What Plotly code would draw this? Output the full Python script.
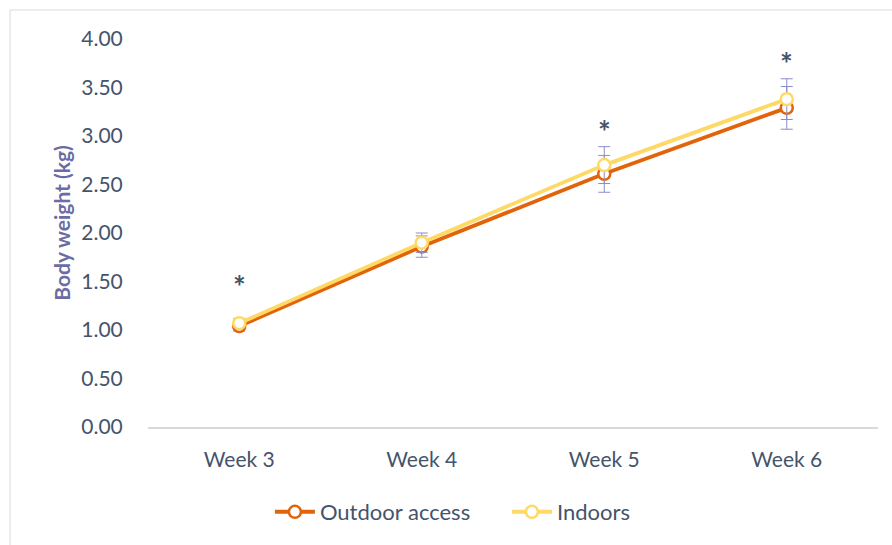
import plotly.graph_objects as go

weeks = ["Week 3", "Week 4", "Week 5", "Week 6"]
outdoor = [1.04, 1.86, 2.61, 3.29]
outdoor_err = [0.05, 0.11, 0.19, 0.22]
indoors = [1.07, 1.90, 2.70, 3.38]
indoors_err = [0.05, 0.10, 0.19, 0.21]
# weeks with a significant difference between groups
signif_weeks = ["Week 3", "Week 5", "Week 6"]
signif_y = [1.45, 3.05, 3.75]

ERR_COLOR = "#8C8CC8"
TEXT_COLOR = "#44546A"
FONT = "Lato"

fig = go.Figure()
for name, vals, errs, color in [
    ("Outdoor access", outdoor, outdoor_err, "#E2640A"),
    ("Indoors", indoors, indoors_err, "#FFD966"),
]:
    fig.add_trace(go.Scatter(
        x=weeks, y=vals, name=name, mode="lines+markers",
        line=dict(color=color, width=3.8),
        marker=dict(symbol="circle", size=12, color="white",
                    line=dict(color=color, width=2.5)),
        error_y=dict(type="data", array=errs, visible=True,
                     color=ERR_COLOR, thickness=1, width=6),
    ))

for w, y in zip(signif_weeks, signif_y):
    fig.add_annotation(x=w, y=y, text="<b>*</b>", showarrow=False,
                       font=dict(size=30, color=TEXT_COLOR, family=FONT))

# y-axis title placed as free text
fig.add_annotation(xref="paper", yref="paper", x=-0.118, y=0.526,
                   xanchor="center", yanchor="middle",
                   text="<b>Body weight (kg)</b>", textangle=-90,
                   showarrow=False,
                   font=dict(size=21, color="#6B6BA6", family=FONT))

# outer chart frame
fig.add_shape(type="rect", xref="paper", yref="paper",
              x0=-0.189, x1=1.2, y0=-0.5, y1=1.0747,
              line=dict(color="#D9D9D9", width=1), layer="below")

fig.update_layout(
    width=892, height=545,
    margin=dict(l=148, r=14, t=39, b=118),
    paper_bgcolor="white", plot_bgcolor="white",
    font=dict(family=FONT, color=TEXT_COLOR, size=21),
    showlegend=True,
    legend=dict(orientation="h", x=0.167, xanchor="left", y=-0.219,
                yanchor="middle", font=dict(size=22, color=TEXT_COLOR),
                itemwidth=40, entrywidth=182, entrywidthmode="pixels"),
    xaxis=dict(type="category", range=[-0.5, 3.5], showgrid=False,
               showline=True, linecolor="#D9D9D9", linewidth=1.5,
               ticks="outside", ticklen=13, tickcolor="rgba(0,0,0,0)",
               tickfont=dict(size=21, color=TEXT_COLOR), zeroline=False),
    yaxis=dict(range=[0, 4], dtick=0.5, tickformat=".2f", showgrid=False,
               showline=False, zeroline=False,
               ticks="outside", ticklen=20, tickcolor="rgba(0,0,0,0)",
               tickfont=dict(size=21, color=TEXT_COLOR)),
)

fig.write_html("out.html")
